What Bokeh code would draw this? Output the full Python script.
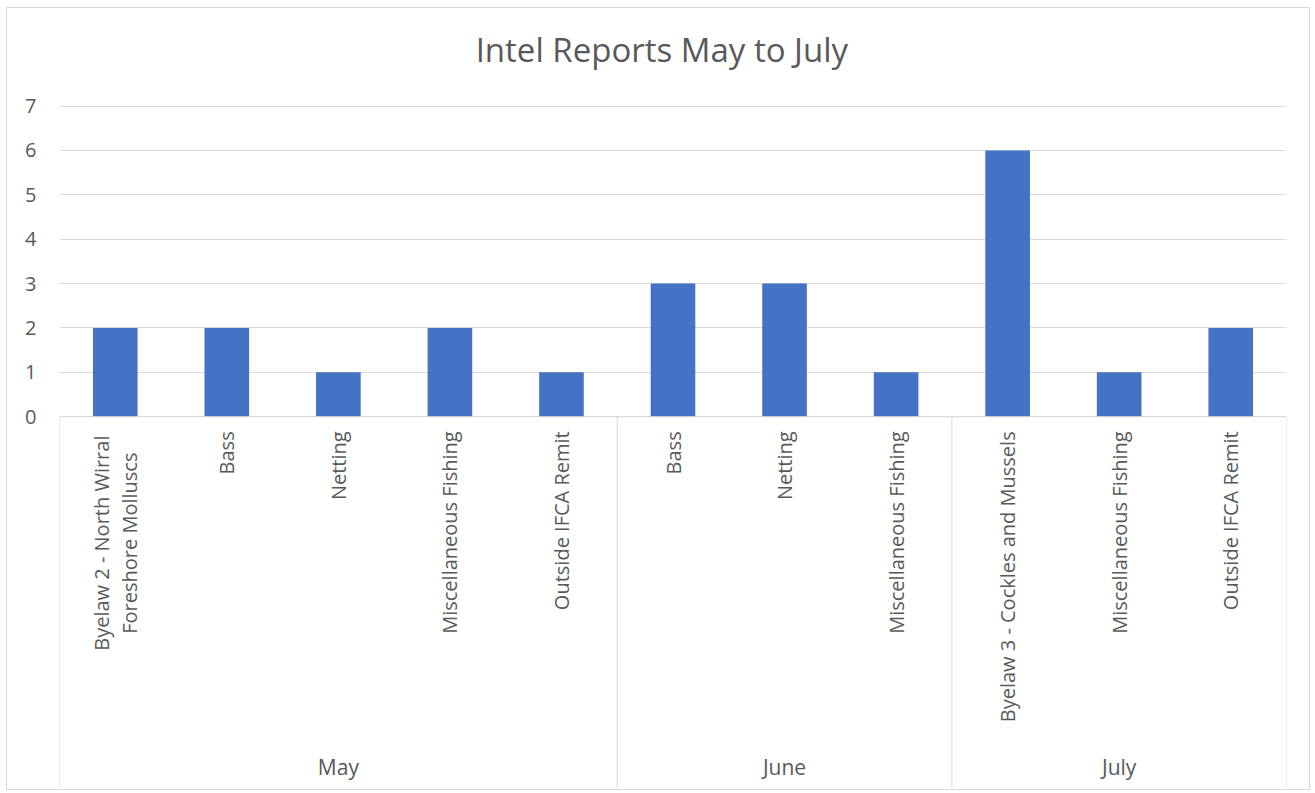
import numpy as np
from bokeh.plotting import figure
from bokeh.models import Range1d, FixedTicker, ColumnDataSource
from bokeh.core.properties import value
from bokeh.embed import file_html
from bokeh.resources import INLINE

# ---------------- data ----------------
chart_title = "Intel Reports May to July"
months = ["May", "June", "July"]
may_items = ["Byelaw 2 - North Wirral\nForeshore Molluscs", "Bass", "Netting",
             "Miscellaneous Fishing", "Outside IFCA Remit"]
june_items = ["Bass", "Netting", "Miscellaneous Fishing"]
july_items = ["Byelaw 3 - Cockles and Mussels", "Miscellaneous Fishing", "Outside IFCA Remit"]
may_counts = [2, 2, 1, 2, 1]
june_counts = [3, 3, 1]
july_counts = [6, 1, 2]
y_ticks = [0, 1, 2, 3, 4, 5, 6, 7]

# ---------------- derived ----------------
groups = [may_items, june_items, july_items]
items = may_items + june_items + july_items
counts = may_counts + june_counts + july_counts
n = len(items)
xs = [i + 0.5 for i in range(n)]
bounds = [0]
for g in groups:
    bounds.append(bounds[-1] + len(g))
group_centers = [(bounds[i] + bounds[i + 1]) / 2 for i in range(len(groups))]

FONT = value("Open Sans")
GREY = "#595959"
LINE = "#d9d9d9"
Y_BOTTOM = -8.38
Y_TOP = 9.20

p = figure(width=1304, height=783, output_backend="svg", toolbar_location=None,
           x_range=Range1d(0, n), y_range=Range1d(Y_BOTTOM, Y_TOP),
           x_axis_location=None, min_border_left=52, min_border_right=25,
           min_border_top=0, min_border_bottom=3)
p.margin = (7, 0, 0, 6)
p.outline_line_color = None
p.styles = {"border": "1px solid #d9d9d9", "box-sizing": "border-box"}
p.xgrid.visible = False
p.yaxis.ticker = FixedTicker(ticks=y_ticks)
p.ygrid.ticker = FixedTicker(ticks=y_ticks)
p.ygrid.grid_line_color = LINE
p.ygrid.grid_line_width = 1
p.yaxis.axis_line_color = None
p.yaxis.major_tick_line_color = None
p.yaxis.minor_tick_line_color = None
p.yaxis.major_tick_out = 0
p.yaxis.major_label_standoff = 23
p.yaxis.major_label_text_font = "Open Sans"
p.yaxis.major_label_text_font_size = "20px"
p.yaxis.major_label_text_color = GREY

# bars
src = ColumnDataSource(dict(x=xs, top=counts))
p.vbar(x="x", top="top", bottom=0, width=0.4, source=src, fill_color="#4472C4", line_color=None)

# category axis line + group separators
p.segment(x0=[0], y0=[0], x1=[n], y1=[0], line_color=LINE, line_width=1)
p.segment(x0=bounds, y0=[0] * len(bounds), x1=bounds, y1=[Y_BOTTOM] * len(bounds),
          line_color=LINE, line_width=1)

# item labels (rotated)
single = [(x, t) for x, t in zip(xs, items) if "\n" not in t]
multi = [(x, t) for x, t in zip(xs, items) if "\n" in t]
p.text(x=[s[0] for s in single], y=[-0.33] * len(single), text=[s[1] for s in single],
       angle=np.pi / 2, text_align="right", text_baseline="middle",
       text_font=FONT, text_font_size="20px", text_color=GREY)
p.text(x=[m[0] for m in multi], y=[-2.85] * len(multi), text=[m[1] for m in multi],
       angle=np.pi / 2, text_align="center", text_baseline="middle",
       text_font=FONT, text_font_size="20px", text_color=GREY, text_line_height=1.05)

# month labels
p.text(x=group_centers, y=[-7.90] * len(months), text=months,
       text_align="center", text_baseline="middle",
       text_font=FONT, text_font_size="21px", text_color=GREY)

# title
p.text(x=[5.4], y=[8.28], text=[chart_title], text_align="center", text_baseline="middle",
       text_font=FONT, text_font_size="33px", text_color=GREY)

open("out.html", "w").write(file_html(p, INLINE))
